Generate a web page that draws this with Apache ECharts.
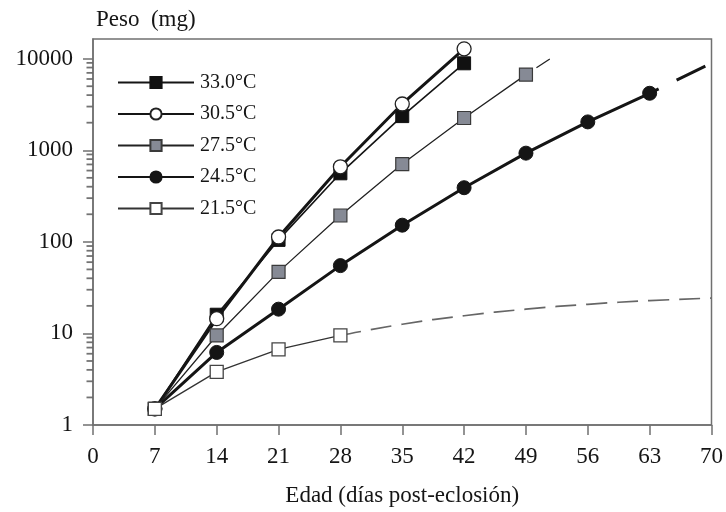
<!DOCTYPE html>
<html>
<head>
<meta charset="utf-8">
<script src="https://cdn.jsdelivr.net/npm/echarts@6/dist/echarts.min.js"></script>
<style>
  html, body { margin: 0; padding: 0; background: #fff; }
  #chart { width: 726px; height: 512px; }
</style>
</head>
<body>
<div id="chart"></div>
<script>
// Larval weight (mg) against age (days after hatching) at five temperatures
const days = [7, 14, 21, 28, 35, 42, 49, 56, 63];
const peso330 = [1.5, 16, 105, 560, 2360, 8900];
const peso305 = [1.5, 14.5, 113, 660, 3200, 12800];
const peso275 = [1.5, 9.5, 47, 194, 707, 2250, 6700];
const peso245 = [1.5, 6.2, 18.4, 55, 152, 390, 930, 2040, 4190];
const peso215 = [1.5, 3.8, 6.7, 9.5];

// Fitted extrapolations drawn as dashed lines
const fit215Days = [28, 35, 42, 49, 56, 63, 70];
const fit215 = [9.5, 12.6, 15.6, 18.4, 20.8, 22.8, 24.3];
const fit275Days = [49, 51.7];
const fit275 = [6700, 9900];
const fit245Days = [63, 69.4];
const fit245 = [4190, 8400];

const xTicks = [0, 7, 14, 21, 28, 35, 42, 49, 56, 63, 70];
const yTicks = [1, 10, 100, 1000, 10000];
const yMinorTicks = [];
for (const dec of [1, 10, 100, 1000]) {
  for (let k = 2; k <= 9; k++) yMinorTicks.push(k * dec);
}

const pairs = (xs, ys) => ys.map((v, i) => [xs[i], v]);

const FONT = '"Liberation Serif", "DejaVu Serif", serif';
const AXIS = '#707070';
const INK = '#151515';

const names = ['33.0\u00b0C', '30.5\u00b0C', '27.5\u00b0C', '24.5\u00b0C', '21.5\u00b0C'];

const chart = echarts.init(document.getElementById('chart'), null, { renderer: 'canvas' });

const isDecade = (v) => {
  const l = Math.log10(v);
  return Math.abs(l - Math.round(l)) < 1e-6;
};

const option = {
  animation: false,
  backgroundColor: '#ffffff',
  textStyle: { fontFamily: FONT, color: INK },
  title: {
    text: 'Peso  (mg)',
    left: 96,
    top: 8,
    padding: 0,
    textStyle: { fontFamily: FONT, fontSize: 23, fontWeight: 'normal', color: INK }
  },
  grid: {
    left: 93, right: 12, top: 39, bottom: 81,
    show: true, borderColor: AXIS, borderWidth: 1.5, backgroundColor: 'transparent'
  },
  legend: {
    data: names,
    orient: 'vertical',
    left: 117,
    top: 72,
    padding: 0,
    itemWidth: 76,
    itemHeight: 14,
    itemGap: 10.5,
    selectedMode: false,
    textStyle: { fontFamily: FONT, fontSize: 20, color: INK, padding: [0, 0, 0, 1], lineHeight: 21 }
  },
  xAxis: {
    type: 'value',
    min: 0, max: 70, interval: 7,
    name: 'Edad (d\u00edas post-eclosi\u00f3n)',
    nameLocation: 'middle',
    nameGap: 59,
    nameTextStyle: { fontFamily: FONT, fontSize: 23, color: INK },
    axisLine: { lineStyle: { color: AXIS, width: 1.5 } },
    axisTick: { length: 10, lineStyle: { color: AXIS, width: 1.5 } },
    axisLabel: { fontFamily: FONT, fontSize: 23, color: INK, margin: 20 },
    splitLine: { show: false }
  },
  yAxis: {
    type: 'log',
    logBase: 10,
    min: 1, max: 16400,
    axisLine: { show: true, lineStyle: { color: AXIS, width: 1.5 } },
    axisTick: { length: 10, customValues: yTicks, lineStyle: { color: AXIS, width: 1.5 } },
    axisLabel: {
      customValues: yTicks,
      fontFamily: FONT, fontSize: 23, color: INK, margin: 20,
      formatter: (v) => (isDecade(v) ? String(Math.round(v)) : '')
    },
    splitLine: { show: false }
  },
  series: [
    {
      name: names[0], type: 'line', data: pairs(days, peso330),
      symbol: 'rect', symbolSize: 13,
      lineStyle: { color: INK, width: 1.6 },
      itemStyle: { color: '#111111', borderColor: '#111111', borderWidth: 1 },
      z: 3
    },
    {
      name: names[1], type: 'line', data: pairs(days, peso305),
      symbol: 'circle', symbolSize: 14,
      lineStyle: { color: INK, width: 3 },
      itemStyle: { color: '#ffffff', borderColor: '#222222', borderWidth: 1.3 },
      z: 4
    },
    {
      name: names[2], type: 'line', data: pairs(days, peso275),
      symbol: 'rect', symbolSize: 13,
      lineStyle: { color: '#222222', width: 1.3 },
      itemStyle: { color: '#868a95', borderColor: '#3a3a3a', borderWidth: 1.2 },
      z: 5
    },
    {
      name: names[3], type: 'line', data: pairs(days, peso245),
      symbol: 'circle', symbolSize: 14,
      lineStyle: { color: INK, width: 3 },
      itemStyle: { color: '#151515', borderColor: '#151515', borderWidth: 1 },
      z: 6
    },
    {
      name: names[4], type: 'line', data: pairs(days, peso215),
      symbol: 'rect', symbolSize: 13,
      lineStyle: { color: '#333333', width: 1.3 },
      itemStyle: { color: '#ffffff', borderColor: '#444444', borderWidth: 1.3 },
      z: 7
    },
    {
      name: 'fit215', type: 'line', data: pairs(fit215Days, fit215),
      smooth: true, showSymbol: false, symbol: 'none',
      lineStyle: { color: '#666666', width: 1.7, type: [21, 10] },
      z: 2
    },
    {
      name: 'fit275', type: 'line', data: pairs(fit275Days, fit275),
      showSymbol: false, symbol: 'none',
      lineStyle: { color: '#222222', width: 1.3, type: [32, 18], dashOffset: 37.5 },
      z: 2
    },
    {
      name: 'fit245', type: 'line', data: pairs(fit245Days, fit245),
      showSymbol: false, symbol: 'none',
      lineStyle: { color: INK, width: 3, type: [32, 20], dashOffset: 22 },
      z: 2
    },
    {
      // minor log ticks (2..9 within each decade) just outside the left axis
      name: 'minorTicks', type: 'scatter',
      data: yMinorTicks.map((v) => [0, v]),
      symbol: 'rect', symbolSize: [6, 1.8], symbolOffset: [-3.5, 0],
      itemStyle: { color: '#505050' },
      clip: false, silent: true, z: 10
    }
  ]
};

chart.setOption(option);
</script>
</body>
</html>
